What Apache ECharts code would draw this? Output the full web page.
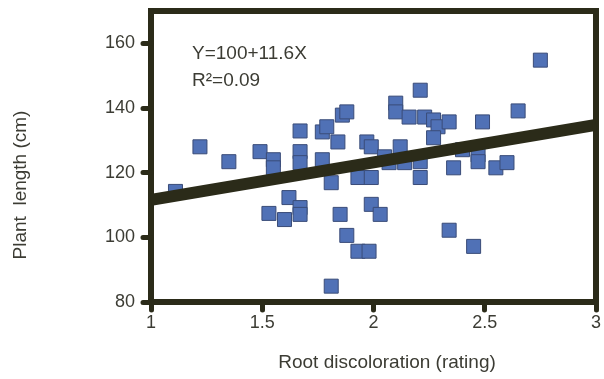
<!DOCTYPE html>
<html>
<head>
<meta charset="utf-8">
<script src="https://cdn.jsdelivr.net/npm/echarts@6/dist/echarts.min.js"></script>
<style>html,body{margin:0;padding:0;background:#fff}#c{width:604px;height:379px}</style>
</head>
<body>
<div id="c"></div>
<script>
// Root discoloration rating (x) and plant length in cm (y)
var rating = [1.11,1.22,1.35,1.49,1.55,1.55,1.53,1.60,1.62,1.67,1.67,1.67,1.67,1.67,
  1.77,1.79,1.86,1.88,1.84,1.77,1.81,1.85,1.88,1.93,1.98,1.81,1.97,1.99,1.93,1.99,
  1.99,2.03,2.10,2.10,2.16,2.23,2.21,2.27,2.29,2.27,2.12,2.07,2.14,2.21,2.21,2.34,
  2.49,2.65,2.75,2.40,2.47,2.47,2.36,2.55,2.60,2.34,2.45,2.05];
var plantLength = [114.2,128.0,123.4,126.5,124.0,121.5,107.4,105.5,112.3,132.9,126.5,123.1,109.2,107.1,
  132.6,134.2,137.8,138.8,129.5,124.0,116.9,107.1,100.6,95.7,95.7,84.9,129.5,128.0,118.5,118.5,
  110.2,107.1,141.5,138.8,137.2,137.2,145.5,136.3,134.2,130.8,128.0,123.1,123.1,123.4,118.5,135.7,
  135.7,139.1,154.8,127.1,125.5,123.4,121.5,121.5,123.1,102.2,97.2,124.9];
// Regression: Y = 100 + 11.6X
var fitX = [1, 3];
var fitY = [111.6, 134.8];
var xTicks = [1, 1.5, 2, 2.5, 3];
var yTicks = [80, 100, 120, 140, 160];
var xTitle = 'Root discoloration (rating)';
var yTitle = 'Plant  length (cm)';
var equationText = 'Y=100+11.6X';
var r2Text = 'R\u00b2=0.09';

var pts = rating.map(function (x, i) { return [x, plantLength[i]]; });
var fit = fitX.map(function (x, i) { return [x, fitY[i]]; });

var axisColor = '#2b2b19';
var textColor = '#3c3c34';
var font = 'Liberation Sans, Arial, sans-serif';

var chart = echarts.init(document.getElementById('c'));
chart.setOption({
  animation: false,
  backgroundColor: '#fff',
  grid: { left: 151, right: 4, top: 11, bottom: 77, show: true, borderColor: axisColor, borderWidth: 6, backgroundColor: '#fff' },
  xAxis: {
    type: 'value', min: 1, max: 3, interval: 0.5,
    axisLine: { show: true, onZero: false, lineStyle: { color: axisColor, width: 6 } },
    axisTick: { show: true, inside: false, length: 8, customValues: xTicks, lineStyle: { color: axisColor, width: 5, cap: 'round' } },
    axisLabel: { color: textColor, fontSize: 18, fontFamily: font, margin: 12, customValues: xTicks },
    splitLine: { show: false }
  },
  yAxis: {
    type: 'value', min: 80, max: 170, interval: 20,
    axisLine: { show: true, onZero: false, lineStyle: { color: axisColor, width: 6 } },
    axisTick: { show: true, length: 8, customValues: yTicks, lineStyle: { color: axisColor, width: 5, cap: 'round' } },
    axisLabel: { color: textColor, fontSize: 18, fontFamily: font, margin: 16, customValues: yTicks },
    splitLine: { show: false }
  },
  series: [
    {
      type: 'scatter', data: pts, symbol: 'rect', symbolSize: 14, z: 2,
      itemStyle: { color: '#5071b6', borderColor: '#3a4c78', borderWidth: 1, opacity: 1 }
    },
    {
      type: 'line', data: fit, symbol: 'none', z: 5, clip: true,
      lineStyle: { color: axisColor, width: 12 }
    }
  ],
  graphic: [
    { type: 'text', left: 192, top: 44, style: { text: equationText, fill: textColor, font: '19px ' + font } },
    { type: 'text', left: 192, top: 71, style: { text: r2Text, fill: textColor, font: '19px ' + font } },
    { type: 'text', x: 387, y: 363, style: { text: xTitle, fill: textColor, font: '19px ' + font, align: 'center', verticalAlign: 'middle' } },
    { type: 'text', x: 21, y: 185, rotation: Math.PI / 2, style: { text: yTitle, fill: textColor, font: '19px ' + font, align: 'center', verticalAlign: 'middle' } }
  ]
});
</script>
</body>
</html>
